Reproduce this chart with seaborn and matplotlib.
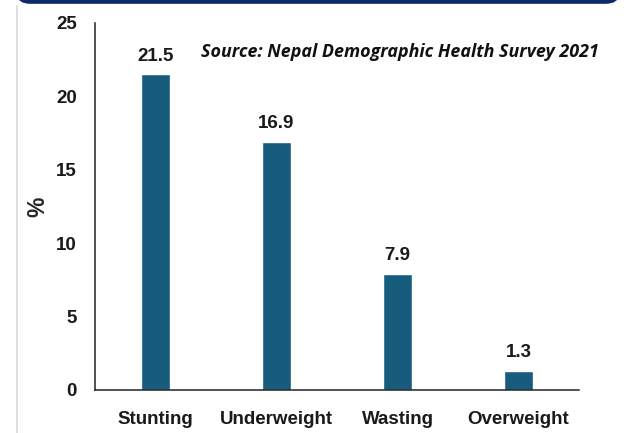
import matplotlib
matplotlib.use('Agg')
import matplotlib.pyplot as plt
from matplotlib.patches import FancyBboxPatch
from matplotlib.lines import Line2D
import seaborn as sns
import pandas as pd

categories = ['Stunting', 'Underweight', 'Wasting', 'Overweight']
values = [21.5, 16.9, 7.9, 1.3]
y_ticks = [0, 5, 10, 15, 20, 25]
source_text = 'Source: Nepal Demographic Health Survey 2021'

bar_color = '#175b7d'

sns.set_style('white')
plt.rcParams['font.family'] = ['Liberation Sans', 'DejaVu Sans']

df = pd.DataFrame({'cat': categories, 'val': values})

fig = plt.figure(figsize=(6.33, 4.33), dpi=100)
ax = fig.add_axes([95 / 633, 1 - 390 / 433, 484 / 633, 367 / 433])

sns.barplot(data=df, x='cat', y='val', color=bar_color, width=0.24,
            saturation=1, ax=ax)

ax.set_ylim(0, 25)
ax.set_xlim(-0.5, 3.5)
ax.set_yticks(y_ticks)
ax.set_xlabel('')
ax.set_ylabel('%', fontsize=16.5, fontweight='bold', labelpad=5)
ax.tick_params(axis='both', length=0, labelsize=13.5, colors='#1a1a1a')
ax.tick_params(axis='y', pad=13)
ax.tick_params(axis='x', pad=15)
for lab in ax.get_xticklabels() + ax.get_yticklabels():
    lab.set_fontweight('bold')

sns.despine(ax=ax)
for s in ['left', 'bottom']:
    ax.spines[s].set_color('#222222')
    ax.spines[s].set_linewidth(1.1)

for i, v in enumerate(values):
    ax.annotate(f'{v}', (i, v), xytext=(0, 7), textcoords='offset points',
                ha='center', va='bottom', fontsize=13.5, fontweight='bold',
                color='#1a1a1a')

fig.text(201 / 633, 1 - 52 / 433, source_text, fontsize=12.9,
         fontweight='bold', style='italic', va='center', ha='left',
         family=['Open Sans', 'DejaVu Sans'], color='#111111')

# frame decorations
frame = FancyBboxPatch((18 / 633, 1 - 3 / 433), 600 / 633, 0.2,
                       boxstyle='round,pad=0,rounding_size=0.02',
                       transform=fig.transFigure, facecolor='#0b2a6b',
                       edgecolor='#0b2a6b', linewidth=1.2)
fig.patches.append(frame)
fig.lines.append(Line2D([17 / 633, 17 / 633], [0, 1 - 6 / 433],
                        transform=fig.transFigure, color='#d9d9d9',
                        linewidth=1.2))

fig.savefig('out.png', dpi=100)
